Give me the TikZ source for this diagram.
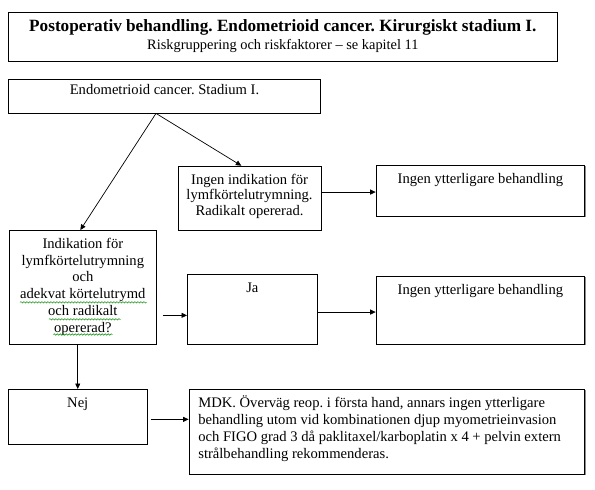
\documentclass[tikz,border=0pt]{standalone}
\usepackage{fontspec}
\setmainfont{Liberation Serif}
\usetikzlibrary{arrows.meta,shadows,decorations.pathmorphing}
\frenchspacing
% width, height, first-baseline offset, alignment, content
\newcommand\boxcontent[5]{\begin{minipage}[t][#2][t]{#1}\frenchspacing#4\rule{0pt}{#3}#5\end{minipage}}
\begin{document}
\begin{tikzpicture}[x=1pt,y=-1pt,
  box/.style={draw, line width=0.7pt, fill=white, inner sep=0pt, anchor=north west,
    drop shadow={shadow xshift=0.9pt, shadow yshift=-0.9pt, fill=black!45, opacity=1}},
  arr/.style={draw, line width=0.7pt, -{Triangle[length=5.5pt,width=5pt]}},
  squig/.style={draw=green!55!black, line width=0.5pt,
    decorate, decoration={snake, segment length=3pt, amplitude=0.7pt}},
  body/.style={font=\fontsize{14.6}{16.8}\selectfont}]
\useasboundingbox (0,0) rectangle (595,490);
\fill[white] (0,0) rectangle (595,490);

\node[box] (title) at (8.3,11.7) {\boxcontent{548.4pt}{49pt}{19.5pt}{\centering\fontsize{14.4}{17.5}\selectfont}{{\bfseries\fontsize{17.2}{17.5}\selectfont Postoperativ behandling. Endometrioid cancer. Kirurgiskt stadium I.}\\Riskgruppering och riskfaktorer – se kapitel 11}};

\node[box, body] (endo) at (8.3,79) {\boxcontent{311.7pt}{33.7pt}{15pt}{\centering}{Endometrioid cancer. Stadium I.}};

\node[box] (ind0) at (177.7,165.7) {\boxcontent{143pt}{64.3pt}{18.3pt}{\centering\fontsize{14.6}{15.5}\selectfont}{Ingen indikation för\\lymfkörtelutrymning.\\Radikalt opererad.}};

\node[box, body] (iy1) at (375.7,165) {\boxcontent{208.7pt}{51pt}{18pt}{\centering}{Ingen ytterligare behandling}};

\node[box, body] (indik) at (9.3,230) {\boxcontent{146.4pt}{114pt}{18pt}{\centering\fontsize{14.6}{16.8}\selectfont}{Indikation för\\lymfkörtelutrymning\\och\\adekvat körtelutrymd\\och radikalt\\opererad?}};

\node[box, body] (ja) at (187,274) {\boxcontent{130pt}{70pt}{18pt}{\centering}{Ja}};

\node[box, body] (iy2) at (375.7,276) {\boxcontent{208.7pt}{68pt}{18pt}{\centering}{Ingen ytterligare behandling}};

\node[box, body] (nej) at (7.6,389) {\boxcontent{139.6pt}{55pt}{18pt}{\centering}{Nej}};

\node[box] (mdk) at (188.6,389) {\boxcontent{395.8pt}{85pt}{17.7pt}{\raggedright\leftskip=9.4pt\fontsize{14.6}{17.2}\selectfont}{MDK. Överväg reop. i första hand, annars ingen ytterligare\\behandling utom vid kombinationen djup myometrieinvasion\\och FIGO grad 3 då paklitaxel/karboplatin x 4 + pelvin extern\\strålbehandling rekommenderas.}};

% connectors
\coordinate (split) at ([xshift=-8.5pt]endo.south);
\draw[arr] (split) -- ([xshift=-2.5pt]indik.north);
\draw[arr] (split) -- ([xshift=-8.2pt]ind0.north);
\draw[arr] ([yshift=6.15pt]ind0.east) coordinate (a1) -- (a1 -| iy1.west);
\draw[arr] ([xshift=7pt,yshift=-28pt]indik.east) coordinate (a2) -- (a2 -| ja.west);
\draw[arr] ([yshift=-2.7pt]ja.east) coordinate (a3) -- (a3 -| iy2.west);
\draw[arr] (nej.north |- indik.south) -- (nej.north);
\draw[arr] ([xshift=2.8pt,yshift=-2.5pt]nej.east) coordinate (a4) -- (a4 -| mdk.west);

% spell-check squiggles
\draw[squig] (20,302.3) -- (146.7,302.3);
\draw[squig] (49,319.3) -- (120.7,319.3);
\draw[squig] (53.3,334.5) -- (112.3,334.5);
\end{tikzpicture}
\end{document}
